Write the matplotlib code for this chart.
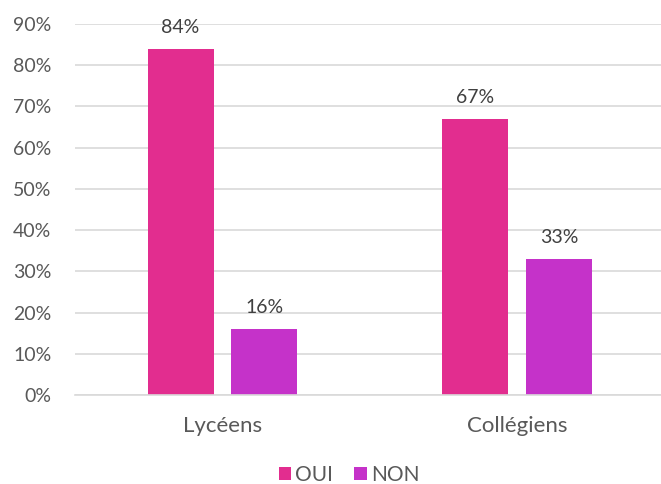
import matplotlib
matplotlib.use("Agg")
import matplotlib.pyplot as plt
import numpy as np

categories = ["Lycéens", "Collégiens"]
oui = [84, 67]
non = [16, 33]
series_names = ["OUI", "NON"]
yticks = [0, 10, 20, 30, 40, 50, 60, 70, 80, 90]

plt.rcParams["font.family"] = ["Lato", "DejaVu Sans"]
text_gray = "#595959"
fs = 14

fig = plt.figure(figsize=(6.61, 4.84), dpi=100)
ax = fig.add_axes([75 / 661, 1 - 395 / 484, 586 / 661, 371 / 484])

x = np.arange(len(categories))
w = 0.224
off = 0.142
colors = ["#E22D8F", "#C532C9"]
b1 = ax.bar(x - off, oui, w, color=colors[0], label=series_names[0], zorder=2)
b2 = ax.bar(x + off, non, w, color=colors[1], label=series_names[1], zorder=2)

for bars in (b1, b2):
    for b in bars:
        ax.text(b.get_x() + b.get_width() / 2, b.get_height() + 3.2,
                f"{b.get_height():.0f}%", ha="center", va="bottom",
                fontsize=fs, color="#404040")

ax.set_ylim(0, 90)
ax.set_xlim(-0.5, 1.488)
ax.set_yticks(yticks)
ax.set_yticklabels([f"{t}%" for t in yticks], fontsize=fs, color=text_gray)
ax.set_xticks(x)
ax.set_xticklabels(categories, fontsize=16, color=text_gray)
ax.tick_params(axis="both", length=0)
ax.tick_params(axis="x", pad=15)
ax.tick_params(axis="y", pad=17)
ax.grid(axis="y", color="#D9D9D9", linewidth=1.2, zorder=0)
for s in ["top", "right", "left"]:
    ax.spines[s].set_visible(False)
ax.spines["bottom"].set_color("#D9D9D9")
ax.spines["bottom"].set_linewidth(1.2)

fig.legend(loc="center", bbox_to_anchor=(349 / 661, 1 - 475 / 484), ncol=2,
           frameon=False, fontsize=15, labelcolor=text_gray,
           handlelength=0.6, handleheight=0.6, handletextpad=0.2,
           columnspacing=1.0)

fig.savefig("out.png", dpi=100)
